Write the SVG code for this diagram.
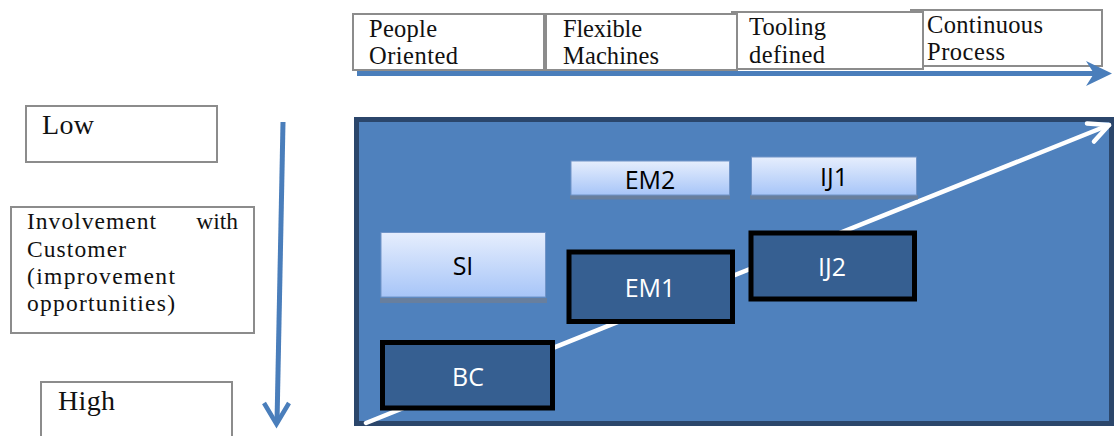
<svg xmlns="http://www.w3.org/2000/svg" width="1114" height="436" viewBox="0 0 1114 436">
  <style>
    .label-box { fill: #ffffff; stroke: #8c8c8c; stroke-width: 2; }
    .serif { font-family: "Liberation Serif", "Times New Roman", serif; fill: #111111; }
    .axis { font-size: 24.5px; }
    .scale { font-size: 28px; }
    .note { font-size: 23.5px; }
    .sans { font-family: "Open Sans", "Liberation Sans", Arial, sans-serif; font-size: 25px; text-anchor: middle; }
    .light { fill: url(#lightFill); stroke: #7094c8; stroke-width: 1; }
    .shadow { fill: #687f9e; }
    .dark { fill: #365f91; stroke: #000000; stroke-width: 5; }
    .blue-line { stroke: #4a7ebb; stroke-width: 5; fill: none; }
    .white-line { stroke: #ffffff; stroke-width: 4.5; fill: none; stroke-linecap: round; stroke-linejoin: round; }
  </style>
  <defs>
    <linearGradient id="lightFill" x1="0" y1="0" x2="0" y2="1">
      <stop offset="0" stop-color="#e6eefd"/>
      <stop offset="1" stop-color="#a7c5f8"/>
    </linearGradient>
  </defs>

  <!-- process-type headings along the top -->
  <g id="process-types">
    <g id="continuous-process">
      <rect class="label-box" x="911" y="10" width="191" height="56"/>
      <text class="serif axis" x="927" y="33" textLength="116">Continuous</text>
      <text class="serif axis" x="927" y="60" textLength="78">Process</text>
    </g>
    <g id="tooling-defined">
      <rect class="label-box" x="732" y="12" width="191" height="57"/>
      <text class="serif axis" x="749" y="35" textLength="77">Tooling</text>
      <text class="serif axis" x="749" y="63" textLength="76">defined</text>
    </g>
    <g id="flexible-machines">
      <rect class="label-box" x="546" y="14" width="191" height="56"/>
      <text class="serif axis" x="563" y="37" textLength="79">Flexible</text>
      <text class="serif axis" x="563" y="64" textLength="96">Machines</text>
    </g>
    <g id="people-oriented">
      <rect class="label-box" x="353" y="14" width="191" height="56"/>
      <text class="serif axis" x="369" y="37" textLength="68">People</text>
      <text class="serif axis" x="369" y="64" textLength="89">Oriented</text>
    </g>
  </g>

  <!-- customer involvement scale on the left -->
  <g id="low">
    <rect class="label-box" x="26" y="106" width="191" height="56"/>
    <text class="serif scale" x="42" y="134" textLength="52">Low</text>
  </g>
  <g id="involvement">
    <rect class="label-box" x="11" y="207" width="243" height="126"/>
    <text class="serif note" x="27" y="229" textLength="129">Involvement</text>
    <text class="serif note" x="238" y="229" text-anchor="end">with</text>
    <text class="serif note" x="27" y="257" textLength="99">Customer</text>
    <text class="serif note" x="27" y="284" textLength="148">(improvement</text>
    <text class="serif note" x="27" y="311" textLength="148">opportunities)</text>
  </g>
  <g id="high">
    <rect class="label-box" x="41" y="382" width="191" height="60"/>
    <text class="serif scale" x="58" y="410" textLength="57">High</text>
  </g>

  <!-- matrix panel -->
  <rect id="matrix" x="356.5" y="119.5" width="755" height="304" fill="#4f81bd" stroke="#2b466b" stroke-width="5"/>

  <g id="connectors">
    <!-- horizontal axis arrow -->
    <line class="blue-line" x1="357" y1="73.5" x2="1095" y2="73.5"/>
    <polygon points="1112,73.5 1086,61 1094,73.5 1086,86" fill="#4a7ebb"/>
    <!-- vertical axis arrow -->
    <line class="blue-line" x1="283" y1="122" x2="277" y2="423" stroke-width="4.5"/>
    <path d="M264,403 L276.5,424 L289,403" fill="none" stroke="#4a7ebb" stroke-width="4.5" stroke-linejoin="miter"/>
    <!-- diagonal trend arrow -->
    <line class="white-line" x1="366" y1="423" x2="1109" y2="125"/>
    <path class="white-line" d="M1087,123.5 L1109,125 L1094,141.5"/>
  </g>

  <g id="SI">
    <rect class="shadow" x="380" y="298" width="167" height="5"/>
    <rect class="light" x="381" y="232.5" width="164.5" height="64.5"/>
    <text class="sans" x="463" y="275" fill="#000000">SI</text>
  </g>
  <g id="EM2">
    <rect class="shadow" x="570" y="195" width="160" height="4.5"/>
    <rect class="light" x="571" y="161" width="158.5" height="34"/>
    <text class="sans" x="650" y="189" fill="#000000">EM2</text>
  </g>
  <g id="IJ1">
    <rect class="shadow" x="750" y="195" width="168" height="4.5"/>
    <rect class="light" x="751.5" y="157" width="165" height="38"/>
    <text class="sans" x="834" y="186" fill="#000000">IJ1</text>
  </g>
  <g id="EM1">
    <rect class="dark" x="569" y="252" width="163.5" height="69.5"/>
    <text class="sans" x="650" y="297" fill="#ffffff">EM1</text>
  </g>
  <g id="IJ2">
    <rect class="dark" x="751" y="233" width="163.5" height="66"/>
    <text class="sans" x="832" y="276" fill="#ffffff">IJ2</text>
  </g>
  <g id="BC">
    <rect class="dark" x="382.5" y="342.5" width="170" height="65.5"/>
    <text class="sans" x="468" y="386" fill="#ffffff">BC</text>
  </g>
</svg>
